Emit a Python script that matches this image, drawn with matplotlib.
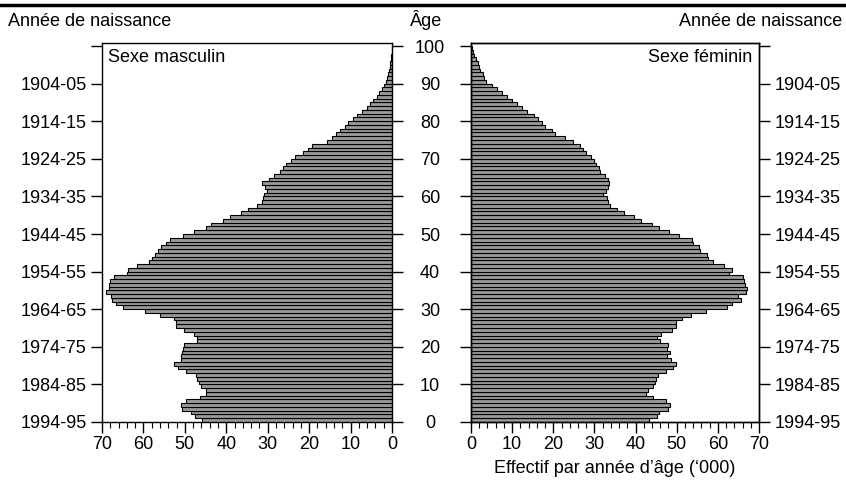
import matplotlib
matplotlib.use("Agg")
import matplotlib.pyplot as plt
from matplotlib.lines import Line2D
from matplotlib.ticker import MultipleLocator

plt.rcParams['font.family'] = ['Liberation Sans', 'DejaVu Sans']

ages = list(range(100))
male = [45.9, 47.5, 48.5, 50.7, 51.0, 49.7, 46.4, 44.8, 44.8, 46.0,
        46.7, 47.0, 47.2, 49.7, 51.7, 52.7, 51.0, 50.9, 50.7, 50.5,
        50.1, 47.0, 47.0, 47.9, 50.2, 52.1, 52.1, 52.7, 55.9, 59.6,
        65.0, 66.6, 67.6, 67.8, 69.0, 68.2, 68.2, 68.0, 67.0, 63.9,
        63.8, 61.5, 58.7, 58.0, 57.3, 56.4, 55.7, 54.5, 53.7, 50.5,
        47.9, 45.0, 43.6, 40.8, 39.0, 36.4, 34.8, 32.6, 31.3, 31.1,
        30.9, 30.2, 30.7, 31.3, 29.7, 28.5, 27.1, 26.3, 25.5, 24.3,
        23.5, 21.6, 20.2, 19.4, 15.8, 14.6, 13.4, 12.6, 11.4, 10.6,
        9.5, 8.5, 7.3, 6.1, 5.3, 4.5, 3.7, 3.1, 2.5, 1.9,
        1.5, 1.1, 0.9, 0.7, 0.55, 0.4, 0.3, 0.2, 0.12, 0.07]
female = [43.3, 45.1, 45.8, 48.0, 48.4, 47.3, 44.3, 42.5, 42.9, 44.3,
          44.7, 45.0, 45.5, 47.3, 49.2, 49.8, 48.5, 47.7, 48.4, 47.7,
          48.0, 45.9, 45.1, 46.3, 48.8, 49.8, 49.8, 51.2, 53.5, 57.0,
          62.3, 63.5, 65.6, 64.8, 66.8, 67.0, 66.5, 66.4, 66.0, 62.7,
          63.4, 61.5, 58.9, 57.7, 57.3, 55.6, 55.5, 54.0, 53.8, 50.6,
          48.1, 45.8, 43.9, 41.2, 39.7, 37.1, 35.6, 33.8, 33.2, 33.1,
          32.0, 32.7, 33.2, 33.6, 33.4, 32.6, 31.4, 31.2, 30.4, 30.0,
          29.2, 27.9, 27.3, 26.5, 24.9, 22.8, 20.4, 19.6, 18.0, 17.3,
          16.4, 15.2, 13.5, 12.5, 11.3, 9.9, 8.7, 7.5, 6.2, 5.2,
          3.6, 3.2, 2.8, 2.2, 1.9, 1.6, 1.2, 0.8, 0.5, 0.2]

age_ticks = list(range(0, 101, 10))
age_labels = [str(a) for a in age_ticks]
birth_labels = ["1994-95", "1984-85", "1974-75", "1964-65", "1954-55",
                "1944-45", "1934-35", "1924-25", "1914-15", "1904-05", ""]
x_ticks = list(range(0, 71, 10))
x_labels = [str(v) for v in x_ticks]

FS = 13
BAR = '#999999'

fig = plt.figure(figsize=(8.46, 4.83), dpi=100)
W, H = 846, 483
axL = fig.add_axes([102 / W, 61 / H, 290 / W, 379 / H])
axR = fig.add_axes([471 / W, 61 / H, 288 / W, 379 / H])

for ax, vals in ((axL, male), (axR, female)):
    ax.barh(ages, vals, height=1.0, align='edge', color=BAR,
            edgecolor='black', linewidth=0.8)
    ax.set_ylim(0, 100.8)
    ax.set_xticks(x_ticks)
    ax.set_xticklabels(x_labels)
    ax.xaxis.set_minor_locator(MultipleLocator(2))
    ax.tick_params(axis='x', which='major', direction='out', length=8,
                   width=1, labelsize=FS, pad=2)
    ax.tick_params(axis='x', which='minor', direction='out', length=4.5,
                   width=0.8)
    ax.set_yticks(age_ticks)
    for s in ax.spines.values():
        s.set_linewidth(1.0)

axL.set_xlim(70, 0)
axR.set_xlim(0, 70)

# left panel: birth years on the left, bare ticks on the right
axL.set_yticklabels(birth_labels)
axL.tick_params(axis='y', left=True, right=True, labelleft=True,
                labelright=False, direction='out', length=8, width=1,
                labelsize=FS, pad=3)

# right panel: ages in the gap (left), birth years on the right (twin)
axR.set_yticklabels(age_labels)
axR.tick_params(axis='y', left=True, right=False, labelleft=True,
                labelright=False, direction='out', length=8, width=1,
                labelsize=FS, pad=21.5)
plt.setp(axR.get_yticklabels(), ha='center')

axR2 = axR.twinx()
axR2.set_ylim(axR.get_ylim())
axR2.set_yticks(age_ticks)
axR2.set_yticklabels(birth_labels)
axR2.tick_params(axis='y', direction='out', length=8, width=1,
                 labelsize=FS, pad=3)
for s in axR2.spines.values():
    s.set_linewidth(1.0)

axL.text(0.02, 0.985, "Sexe masculin", transform=axL.transAxes,
         ha='left', va='top', fontsize=FS)
axR.text(0.975, 0.985, "Sexe féminin", transform=axR.transAxes,
         ha='right', va='top', fontsize=FS)

axR.set_xlabel("Effectif par année d’âge (‘000)", fontsize=FS, labelpad=5)

fig.text(8 / W, 1 - 22 / H, "Année de naissance", ha='left', va='center',
         fontsize=FS)
fig.text(842 / W, 1 - 22 / H, "Année de naissance", ha='right', va='center',
         fontsize=FS)
fig.text(426 / W, 1 - 20 / H, "Âge", ha='center', va='center', fontsize=FS)

fig.add_artist(Line2D([0, 1], [1 - 5 / H, 1 - 5 / H], color='black',
                      linewidth=2.5, transform=fig.transFigure))

fig.savefig("out.png", dpi=100)
